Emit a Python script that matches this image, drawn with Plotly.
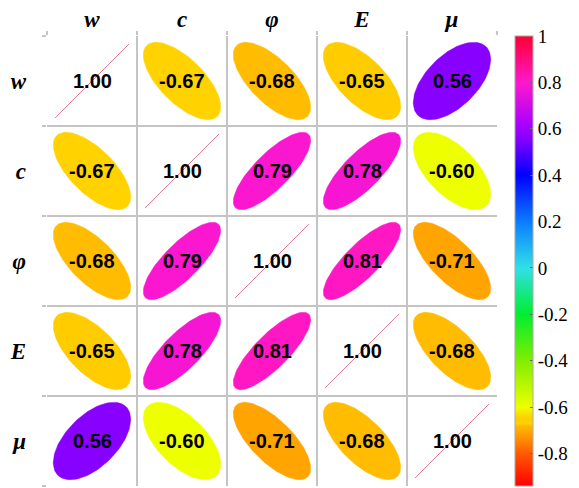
import numpy as np
import plotly.graph_objects as go
from plotly.colors import sample_colorscale

labels = ["w", "c", "φ", "E", "μ"]
corr = [
    [1.00, -0.67, -0.68, -0.65, 0.56],
    [-0.67, 1.00, 0.79, 0.78, -0.60],
    [-0.68, 0.79, 1.00, 0.81, -0.71],
    [-0.65, 0.78, 0.81, 1.00, -0.68],
    [0.56, -0.60, -0.71, -0.68, 1.00],
]
cbar_ticks = [1, 0.8, 0.6, 0.4, 0.2, 0, -0.2, -0.4, -0.6, -0.8]
cbar_text = ["1", "0.8", "0.6", "0.4", "0.2", "0", "-0.2", "-0.4", "-0.6", "-0.8"]

CMIN, CMAX = -0.94, 1.0
stops = [
    (-0.94, "#ff0000"),
    (-0.80, "#ff5a00"),
    (-0.71, "#ffa400"),
    (-0.68, "#ffbc00"),
    (-0.67, "#ffd200"),
    (-0.65, "#ffcc00"),
    (-0.60, "#eeff00"),
    (-0.40, "#80ee00"),
    (-0.20, "#00ee30"),
    (0.00, "#30e0e8"),
    (0.20, "#0a7cff"),
    (0.40, "#0000ff"),
    (0.56, "#8800ff"),
    (0.62, "#aa00ff"),
    (0.80, "#ff18cc"),
    (1.00, "#ff0030"),
]
cscale = [[(v - CMIN) / (CMAX - CMIN), c] for v, c in stops]

fig = go.Figure()
s = 0.43
t = np.linspace(0, 2 * np.pi, 120)
n = len(labels)
for i in range(n):
    for j in range(n):
        r = corr[i][j]
        cx, cy = j + 1, i + 1
        if i == j:
            fig.add_trace(go.Scatter(x=[cx - 0.41, cx + 0.41], y=[cy + 0.41, cy - 0.41],
                                     mode="lines", line=dict(color="#e07a95", width=1),
                                     hoverinfo="skip", showlegend=False))
        else:
            d = np.arccos(r)
            ex = cx + s * np.cos(t + d / 2)
            ey = cy - s * np.cos(t - d / 2)
            col = sample_colorscale(cscale, [(r - CMIN) / (CMAX - CMIN)])[0]
            fig.add_trace(go.Scatter(x=ex, y=ey, mode="lines", fill="toself", fillcolor=col,
                                     line=dict(color=col, width=0.5), hoverinfo="skip",
                                     showlegend=False))
        fig.add_annotation(x=cx, y=cy, text=f"<b>{r:.2f}</b>", showarrow=False,
                           font=dict(family="Liberation Sans", size=20, color="black"))

# colorbar carrier
cbar = dict(x=1.04, xanchor="left", xpad=0, y=0.5, yanchor="middle", lenmode="pixels",
            len=450, thickness=18, ypad=0, outlinecolor="#aaaaaa", outlinewidth=1,
            tickvals=cbar_ticks, ticktext=cbar_text, ticks="inside", ticklen=3,
            tickcolor="#666", tickfont=dict(family="Liberation Serif", size=19, color="black"))
fig.add_trace(go.Scatter(x=[None], y=[None], mode="markers", showlegend=False,
                         marker=dict(color=[0], colorscale=cscale, cmin=CMIN, cmax=CMAX,
                                     showscale=True, colorbar=cbar)))

lab_txt = [f"<b><i>{l}</i></b>" for l in labels]
grid = [k + 0.5 for k in range(n + 1)]
minor = dict(tickvals=grid, showgrid=True, gridcolor="#c4c4c4", gridwidth=1.5,
             ticks="outside", ticklen=4, tickcolor="#c4c4c4", tickwidth=1.5)
fig.update_xaxes(range=[0.5, 5.5], tickvals=list(range(1, n + 1)), ticktext=lab_txt, side="top",
                 showgrid=False, zeroline=False, ticks="", showline=False, automargin=False,
                 ticklabelstandoff=3,
                 tickfont=dict(family="Liberation Serif", size=23, color="black"),
                 minor=minor)
fig.update_yaxes(range=[5.5, 0.5], tickvals=list(range(1, n + 1)), ticktext=lab_txt,
                 showgrid=False, zeroline=False, ticks="", showline=False, automargin=False,
                 ticklabelstandoff=20,
                 tickfont=dict(family="Liberation Serif", size=23, color="black"),
                 minor=minor)
fig.update_layout(width=579, height=488, margin=dict(l=39, r=90, t=28, b=10),
                  plot_bgcolor="white", paper_bgcolor="white")
fig.write_html("out.html")
